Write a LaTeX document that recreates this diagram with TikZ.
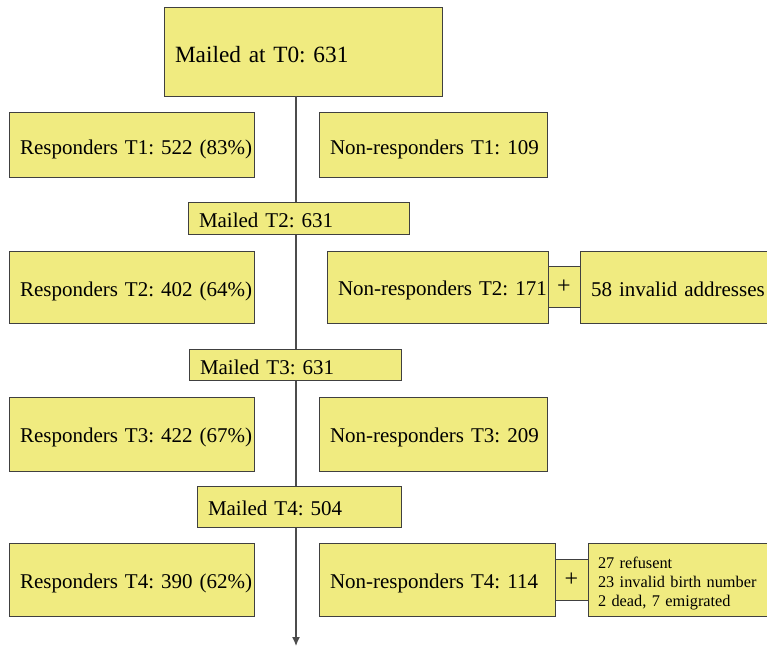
\documentclass[tikz,border=0pt]{standalone}
\usepackage{fontspec}
\setmainfont{Liberation Serif}
\frenchspacing
\usetikzlibrary{positioning,arrows.meta}
\definecolor{boxfill}{RGB}{240,235,128}
\definecolor{boxline}{RGB}{64,64,64}

\tikzset{
  stage/.style={draw=boxline, fill=boxfill, line width=0.9pt, outer sep=0pt, inner xsep=11pt, inner ysep=0pt,
    align=left, text height=18pt, text depth=0pt, font=\fontsize{21}{26}\selectfont},
  oneline/.style={stage, execute at begin node=\hbox\bgroup, execute at end node=\egroup},
  plusbox/.style={draw=boxline, fill=boxfill, line width=0.9pt, outer sep=0pt, inner sep=0pt,
    minimum width=32pt, minimum height=41pt, font=\fontsize{24}{28}\selectfont},
  spine/.style={draw=black!70, line width=1.3pt, -{Latex[length=9pt,width=8pt]}}
}

\begin{document}
\begin{tikzpicture}[x=1pt, y=-1pt]
            \useasboundingbox (0,0) rectangle (767,647);
            \clip (0,0) rectangle (767,647);

            % Start
            \node [oneline, anchor=north west, text width=256pt, minimum height=89pt, text height=22pt,
                   font=\fontsize{23.3}{28}\selectfont] (mail0) at (164,7) {Mailed at T0: 631};

            % Time line
            \coordinate (tip) at (296,646);
            \draw [spine] (mail0.south -| tip) -- (tip);

            % T1
            \node [oneline, anchor=north west, text width=223pt, minimum height=65pt, text height=21pt] (resp1) at (9,112) {Responders T1: 522 (83\%)};
            \node [oneline, anchor=north west, text width=206pt, minimum height=65pt, text height=21pt] (nresp1) at (319,112) {Non-responders T1: 109};

            % T2
            \node [oneline, anchor=north west, text width=199pt, minimum height=32pt] (mail2) at (188,202) {Mailed T2: 631};
            \node [oneline, anchor=north west, text width=223pt, minimum height=72pt] (resp2) at (9,251) {Responders T2: 402 (64\%)};
            \node [oneline, anchor=north west, text width=199pt, minimum height=72pt, text height=16pt] (nresp2) at (327,251) {Non-responders T2: 171};
            \node [plusbox, right=0pt of nresp2] (plus2) {+};
            \node [oneline, right=0pt of plus2, text width=188pt, minimum height=72pt] (addr2) {58 invalid addresses};

            % T3
            \node [oneline, anchor=north west, text width=190pt, minimum height=31pt, text height=19pt] (mail3) at (189,349) {Mailed T3: 631};
            \node [oneline, anchor=north west, text width=223pt, minimum height=74pt, text height=16pt] (resp3) at (9,397) {Responders T3: 422 (67\%)};
            \node [oneline, anchor=north west, text width=206pt, minimum height=74pt, text height=16pt] (nresp3) at (319,397) {Non-responders T3: 209};

            % T4
            \node [oneline, anchor=north west, text width=182pt, minimum height=41pt, text height=17pt] (mail4) at (197,486) {Mailed T4: 504};
            \node [oneline, anchor=north west, text width=223pt, minimum height=73pt, text height=17pt] (resp4) at (9,543) {Responders T4: 390 (62\%)};
            \node [oneline, anchor=north west, text width=214pt, minimum height=73pt, text height=17pt] (nresp4) at (319,543) {Non-responders T4: 114};
            \node [plusbox, minimum width=33pt, right=0pt of nresp4] (plus4) {+};
            \node [stage, right=0pt of plus4, inner xsep=10pt, text width=190pt, minimum height=73pt,
                   text height=15pt, text depth=38pt, font=\fontsize{16.3}{19}\selectfont] (reasons4)
                  {27 refusent\\23 invalid birth number\\2 dead, 7 emigrated};
\end{tikzpicture}
\end{document}
